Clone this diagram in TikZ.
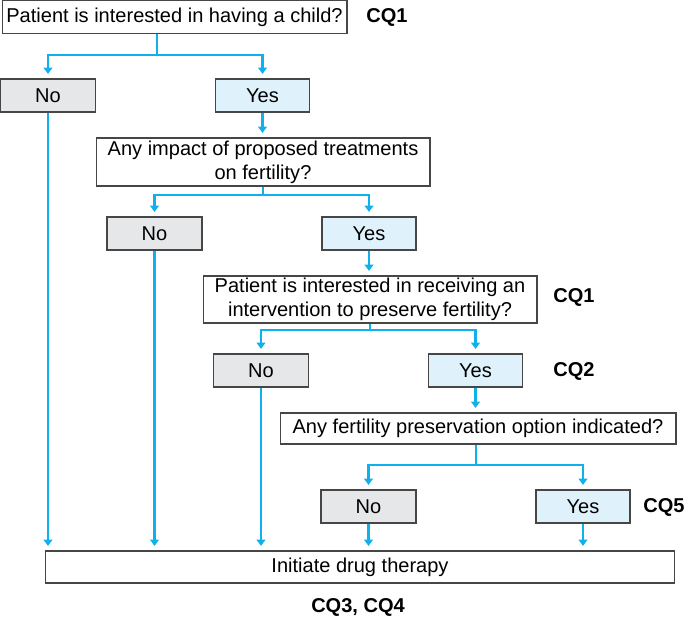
\documentclass[tikz,border=0pt]{standalone}
\usepackage{fontspec}
\setmainfont{Liberation Sans}
\usetikzlibrary{arrows.meta}
\definecolor{flowline}{RGB}{16,176,236}
\definecolor{nofill}{RGB}{230,231,232}
\definecolor{yesfill}{RGB}{223,242,251}
\definecolor{boxline}{RGB}{70,70,70}
\begin{document}
\begin{tikzpicture}[x=0.02cm, y=-0.02cm, font=\fontsize{11.4}{13.5}\selectfont]

\tikzstyle{question}=[draw=boxline, line width=0.6pt, fill=white, inner sep=0pt, align=center, minimum height=0.66cm]
\tikzstyle{nobox}=[question, fill=nofill, minimum width=1.9cm]
\tikzstyle{yesbox}=[question, fill=yesfill, minimum width=1.88cm]
\tikzstyle{cq}=[font=\fontsize{11.4}{13.5}\selectfont\bfseries]
\tikzstyle{link}=[draw=flowline, line width=1.6pt]
\tikzstyle{arr}=[link, -{Triangle[width=5pt,length=3.6pt]}, shorten >=2.6pt]

\useasboundingbox (0,0) rectangle (685,623);

\node[question, minimum width=6.9cm] (q1) at (174.5,17) {Patient is interested in having a child?};
\node[cq] (cq1a) at (387,17) {CQ1};
\node[nobox] (no1) at (48,95.5) {No};
\node[yesbox] (yes1) at (262.5,95.5) {Yes};

\node[question, minimum width=6.68cm, minimum height=0.96cm] (q2) at (263,162) {Any impact of proposed treatments\\on fertility?};
\node[nobox] (no2) at (154.5,233.5) {No};
\node[yesbox] (yes2) at (369,233.5) {Yes};

\node[question, minimum width=6.68cm, minimum height=0.94cm] (q3) at (370,299.5) {Patient is interested in receiving an\\intervention to preserve fertility?};
\node[cq] (cq1b) at (574,297) {CQ1};
\node[nobox] (no3) at (261,370.5) {No};
\node[yesbox] (yes3) at (475.5,370.5) {Yes};
\node[cq] (cq2) at (574,371) {CQ2};

\node[question, minimum width=7.92cm, minimum height=0.62cm] (q4) at (478,428.5) {Any fertility preservation option indicated?};
\node[nobox] (no4) at (368.5,506.5) {No};
\node[yesbox] (yes4) at (583,506.5) {Yes};
\node[cq] (cq5) at (664,507) {CQ5};

\node[question, minimum width=12.6cm, minimum height=0.64cm] (fin) at (360,567) {Initiate drug therapy};
\node[cq] (cq34) at (358,607) {CQ3, CQ4};

\coordinate (j1) at (157,55);
\coordinate (j2) at (263,195);
\coordinate (j3) at (370,330);
\coordinate (j4) at (476,465);

\draw[link] (q1.south -| j1) -- (j1);
\draw[arr] (j1) -| (no1);
\draw[arr] (j1) -| (yes1);
\draw[arr] (yes1.south) -- (yes1.south |- q2.north);

\draw[link] (q2.south -| j2) -- (j2);
\draw[arr] (j2) -| (no2);
\draw[arr] (j2) -| (yes2);
\draw[arr] (yes2.south) -- (yes2.south |- q3.north);

\draw[link] (q3.south -| j3) -- (j3);
\draw[arr] (j3) -| (no3);
\draw[arr] (j3) -| (yes3);
\draw[arr] (yes3.south) -- (yes3.south |- q4.north);

\draw[link] (q4.south -| j4) -- (j4);
\draw[arr] (j4) -| (no4);
\draw[arr] (j4) -| (yes4);

\draw[arr] (no1.south) -- (no1.south |- fin.north);
\draw[arr] (no2.south) -- (no2.south |- fin.north);
\draw[arr] (no3.south) -- (no3.south |- fin.north);
\draw[arr] (no4.south) -- (no4.south |- fin.north);
\draw[arr] (yes4.south) -- (yes4.south |- fin.north);
\end{tikzpicture}
\end{document}
